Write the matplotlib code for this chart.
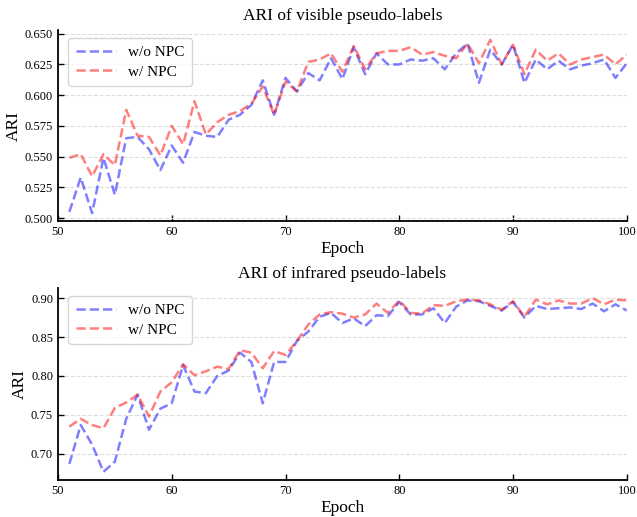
import numpy as np
import matplotlib
matplotlib.use('Agg')
import matplotlib.pyplot as plt

plt.rcParams['font.family'] = ['Liberation Serif', 'DejaVu Serif']

# Epochs and ARI values
epochs = np.arange(51, 101)

vis_wo = [0.505, 0.533, 0.504, 0.549, 0.519, 0.565, 0.566, 0.556, 0.539, 0.559,
          0.545, 0.570, 0.567, 0.566, 0.580, 0.584, 0.592, 0.612, 0.584, 0.614,
          0.603, 0.618, 0.612, 0.630, 0.613, 0.639, 0.617, 0.634, 0.625, 0.625,
          0.629, 0.628, 0.630, 0.621, 0.634, 0.642, 0.610, 0.637, 0.625, 0.641,
          0.610, 0.629, 0.621, 0.628, 0.621, 0.624, 0.626, 0.629, 0.614, 0.626]
vis_w = [0.549, 0.552, 0.534, 0.552, 0.543, 0.588, 0.567, 0.566, 0.551, 0.575,
         0.560, 0.595, 0.568, 0.578, 0.584, 0.587, 0.593, 0.607, 0.584, 0.611,
         0.603, 0.627, 0.629, 0.634, 0.619, 0.640, 0.621, 0.634, 0.636, 0.636,
         0.639, 0.633, 0.635, 0.632, 0.630, 0.642, 0.626, 0.645, 0.625, 0.641,
         0.617, 0.637, 0.628, 0.634, 0.625, 0.629, 0.631, 0.633, 0.625, 0.633]

ir_wo = [0.687, 0.737, 0.712, 0.677, 0.690, 0.745, 0.776, 0.731, 0.758, 0.765,
         0.814, 0.780, 0.778, 0.800, 0.807, 0.830, 0.818, 0.765, 0.818, 0.818,
         0.845, 0.857, 0.876, 0.881, 0.868, 0.874, 0.864, 0.878, 0.877, 0.895,
         0.879, 0.879, 0.887, 0.868, 0.889, 0.897, 0.896, 0.890, 0.884, 0.895,
         0.875, 0.890, 0.886, 0.887, 0.888, 0.886, 0.893, 0.883, 0.892, 0.884]
ir_w = [0.735, 0.745, 0.737, 0.733, 0.759, 0.766, 0.776, 0.748, 0.780, 0.792,
        0.815, 0.801, 0.806, 0.812, 0.809, 0.833, 0.830, 0.810, 0.832, 0.827,
        0.845, 0.866, 0.879, 0.882, 0.880, 0.875, 0.879, 0.893, 0.881, 0.897,
        0.881, 0.880, 0.891, 0.890, 0.896, 0.898, 0.897, 0.892, 0.885, 0.896,
        0.876, 0.898, 0.892, 0.897, 0.893, 0.893, 0.900, 0.892, 0.898, 0.897]

fig = plt.figure(figsize=(6.37, 5.17), dpi=100)
ax1 = fig.add_axes([0.091, 0.5725, 0.893, 0.3695])
ax2 = fig.add_axes([0.091, 0.0716, 0.893, 0.3714])


def style(ax, title, ylim, yticks, fmt):
    ax.set_title(title, fontsize=12.5, pad=7)
    ax.set_xlabel('Epoch', fontsize=12.5, labelpad=2)
    ax.set_ylabel('ARI', fontsize=12.5, labelpad=2)
    ax.set_xlim(50, 100)
    ax.set_ylim(*ylim)
    ax.set_xticks([50, 60, 70, 80, 90, 100])
    ax.set_yticks(yticks)
    ax.set_yticklabels([fmt.format(v) for v in yticks])
    ax.tick_params(direction='in', labelsize=9, length=4, width=1)
    ax.spines['top'].set_visible(False)
    ax.spines['right'].set_visible(False)
    ax.spines['left'].set_linewidth(1.3)
    ax.spines['bottom'].set_linewidth(1.3)
    ax.yaxis.grid(True, linestyle='--', color='#dddddd', linewidth=0.8)
    ax.set_axisbelow(True)
    ax.legend(loc='upper left', fontsize=11, frameon=True, handlelength=2.6,
              borderpad=0.5, labelspacing=0.4, bbox_to_anchor=(0.005, 1.0))


ax1.plot(epochs, vis_wo, '--', color='blue', alpha=0.5, lw=1.8, label='w/o NPC')
ax1.plot(epochs, vis_w, '--', color='red', alpha=0.5, lw=1.8, label='w/ NPC')
style(ax1, 'ARI of visible pseudo-labels', (0.4976, 0.653),
      [0.500, 0.525, 0.550, 0.575, 0.600, 0.625, 0.650], '{:.3f}')

ax2.plot(epochs, ir_wo, '--', color='blue', alpha=0.5, lw=1.8, label='w/o NPC')
ax2.plot(epochs, ir_w, '--', color='red', alpha=0.5, lw=1.8, label='w/ NPC')
style(ax2, 'ARI of infrared pseudo-labels', (0.6665, 0.913),
      [0.70, 0.75, 0.80, 0.85, 0.90], '{:.2f}')

fig.savefig('out.png', dpi=100)
